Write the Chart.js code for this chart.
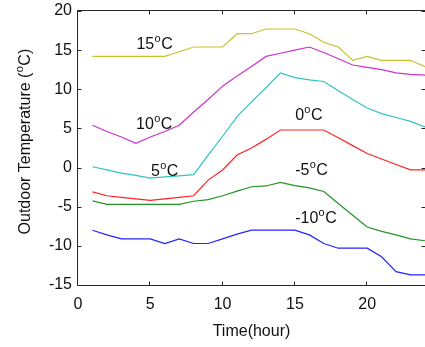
<!DOCTYPE html>
<html><head><meta charset="utf-8">
<script src="https://cdn.jsdelivr.net/npm/chart.js@4/dist/chart.umd.min.js"></script>
<style>html,body{margin:0;padding:0;background:#fff;overflow:hidden}#wrap{width:425px;height:347px;position:relative}</style>
</head><body><div id="wrap"><canvas id="c"></canvas></div>
<script>
// ---- data ----
const hours = [1,2,3,4,5,6,7,8,9,10,11,12,13,14,15,16,17,18,19,20,21,22,23,24];
const t15  = [14.2,14.2,14.2,14.2,14.2,14.2,14.8,15.4,15.4,15.4,17.1,17.1,17.7,17.7,17.7,17.1,16.0,15.4,13.7,14.2,13.7,13.7,13.7,12.9];
const t10  = [5.4,4.6,3.9,3.1,3.9,4.6,5.4,7.1,8.7,10.4,11.7,12.9,14.2,14.6,15.0,15.4,14.7,13.9,13.1,12.8,12.5,12.1,11.9,11.8];
const t5   = [0.1,-0.3,-0.7,-1.0,-1.35,-1.2,-1.05,-0.9,1.6,4.0,6.5,8.4,10.2,12.1,11.5,11.2,11.0,9.8,8.7,7.6,6.9,6.4,5.9,5.2];
const t0   = [-3.1,-3.6,-3.8,-4.0,-4.2,-4.0,-3.8,-3.6,-1.6,-0.3,1.6,2.5,3.6,4.8,4.8,4.8,4.8,3.8,2.8,1.8,1.1,0.4,-0.3,-0.3];
const tm5  = [-4.25,-4.7,-4.7,-4.7,-4.7,-4.7,-4.7,-4.3,-4.1,-3.6,-3.0,-2.45,-2.35,-1.9,-2.3,-2.6,-3.05,-4.6,-6.1,-7.6,-8.15,-8.6,-9.1,-9.35];
const tm10 = [-8.0,-8.6,-9.1,-9.1,-9.1,-9.7,-9.1,-9.7,-9.7,-9.1,-8.5,-8.0,-8.0,-8.0,-8.0,-8.6,-9.7,-10.3,-10.3,-10.3,-11.4,-13.3,-13.7,-13.7];
const seriesNames = ['15','10','5','0','-5','-10'];
const xTicks = [0,5,10,15,20];
const yTicks = [-15,-10,-5,0,5,10,15,20];
const xTitle = 'Time(hour)';
const yTitle = ['Outdoor Temperature (', 'o', 'C)'];

// ---- style ----
const FONT = "'Liberation Sans', Arial, Helvetica, sans-serif";
const AX = '#262626';
const colors = ['#C4C42E','#CC33CC','#2EC4C4','#FF2424','#239423','#2424FF'];
// label anchors (hour, temperature) for left/baseline of text
const labelAnchors = [[4.04,15.14],[4.02,4.9],[5.05,-1.06],[15.02,6.08],[15.02,-0.93],[15.02,-7.02]];

const allSeries = [t15,t10,t5,t0,tm5,tm10];
const datasets = allSeries.map((s,i)=>({
  label: seriesNames[i],
  data: s.map((v,j)=>({x:hours[j], y:v})),
  borderColor: colors[i], borderWidth: 1.2, pointRadius: 0, tension: 0, fill:false
}));

function degText(ctx, num, x, y, size){
  ctx.font = size+'px '+FONT;
  ctx.fillText(num, x, y);
  const w = ctx.measureText(num).width;
  const small = Math.round(size*0.68);
  ctx.font = small+'px '+FONT;
  ctx.fillText('o', x+w+0.3, y-7);
  const wo = ctx.measureText('o').width;
  ctx.font = size+'px '+FONT;
  ctx.fillText('C', x+w+wo+0.8, y);
}

const boxPlugin = {
  id:'box',
  afterDatasetsDraw(chart){
    const {ctx, chartArea:a, scales:{x,y}} = chart;
    ctx.save();
    ctx.strokeStyle = AX; ctx.lineWidth = 1;
    const L = a.left-0.5, R = a.right+0.5, T = a.top-0.5, B = a.bottom+0.5;
    ctx.beginPath();
    ctx.moveTo(L,T); ctx.lineTo(R,T); ctx.lineTo(R,B); ctx.lineTo(L,B); ctx.closePath();
    const tl = 4;
    xTicks.forEach(v=>{ const px = Math.round(x.getPixelForValue(v))-0.5;
      ctx.moveTo(px,B); ctx.lineTo(px,B-tl); ctx.moveTo(px,T); ctx.lineTo(px,T+tl); });
    yTicks.forEach(v=>{ const py = Math.round(y.getPixelForValue(v))+0.5;
      ctx.moveTo(L,py); ctx.lineTo(L+tl,py); ctx.moveTo(R,py); ctx.lineTo(R-tl,py); });
    ctx.stroke();
    ctx.restore();
  },
  afterDraw(chart){
    const {ctx, scales:{x,y}} = chart;
    ctx.save();
    ctx.fillStyle = '#111';
    ctx.textBaseline = 'alphabetic'; ctx.textAlign = 'left';
    labelAnchors.forEach((p,i)=>{
      degText(ctx, seriesNames[i], x.getPixelForValue(p[0]), y.getPixelForValue(p[1]), 16);
    });
    // y title with superscript
    ctx.translate(30, 141.5);
    ctx.rotate(-Math.PI/2);
    ctx.font = '16px '+FONT;
    const w1 = ctx.measureText(yTitle[0]).width;
    ctx.font = '11px '+FONT;
    const wo = ctx.measureText(yTitle[1]).width;
    ctx.font = '16px '+FONT;
    const w2 = ctx.measureText(yTitle[2]).width;
    const start = -(w1+wo+w2+1)/2;
    ctx.fillText(yTitle[0], start, 0);
    ctx.font = '11px '+FONT;
    ctx.fillText(yTitle[1], start+w1+0.3, -7);
    ctx.font = '16px '+FONT;
    ctx.fillText(yTitle[2], start+w1+wo+0.8, 0);
    ctx.restore();
  }
};

new Chart(document.getElementById('c'), {
  type:'line',
  data:{datasets},
  options:{
    responsive:true, maintainAspectRatio:false, animation:false,
    devicePixelRatio:1,
    layout:{padding:{top:11,right:0,bottom:0,left:0}},
    plugins:{legend:{display:false}, tooltip:{enabled:false}},
    scales:{
      x:{type:'linear', min:0, max:24,
        afterFit(s){ s.height = 62; s.paddingLeft = 0; s.paddingRight = 0; s.paddingTop = 0; s.paddingBottom = 0; },
        afterBuildTicks(s){ s.ticks = xTicks.map(v=>({value:v})); },
        grid:{display:false, drawTicks:false}, border:{display:false},
        ticks:{font:{family:FONT,size:16}, color:'#111', padding:10, maxRotation:0, includeBounds:false},
        title:{display:true, text:xTitle, font:{family:FONT,size:16}, color:'#111', padding:{top:0,bottom:5.4}}
      },
      y:{type:'linear', min:-15, max:20,
        afterFit(s){ s.width = 78; s.paddingTop = 0; s.paddingBottom = 0; s.paddingLeft = 0; s.paddingRight = 0; },
        afterBuildTicks(s){ s.ticks = yTicks.map(v=>({value:v})); },
        grid:{display:false, drawTicks:false}, border:{display:false},
        ticks:{font:{family:FONT,size:16}, color:'#111', padding:6}
      }
    }
  },
  plugins:[boxPlugin]
});
</script></body></html>
